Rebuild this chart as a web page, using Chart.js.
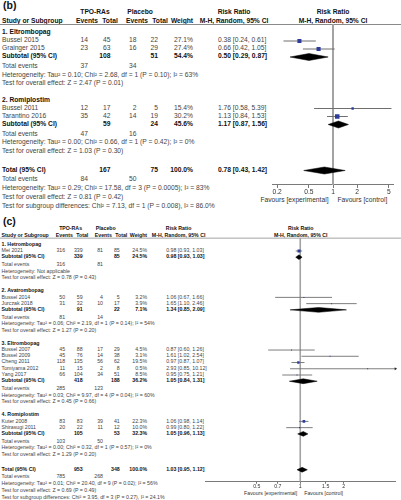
<!DOCTYPE html>
<html><head><meta charset="utf-8">
<script src="https://cdn.jsdelivr.net/npm/chart.js@4.4.1/dist/chart.umd.min.js"></script>
<style>
html,body{margin:0;padding:0;background:#fff;}
body{width:401px;height:500px;position:relative;overflow:hidden;font-family:"Liberation Sans",Arial,Helvetica,sans-serif;}
.t{position:absolute;white-space:nowrap;line-height:1;color:#444;}
.b{font-weight:bold;color:#111;}
.panel{position:absolute;left:0;transform-origin:0 0;}
.hl{position:absolute;left:0;height:0;border-top:1px solid #8a8a8a;}
canvas{position:absolute;}
.ttl{position:absolute;left:3px;font-weight:bold;font-size:10.5px;line-height:1;color:#111;}
</style></head><body>
<div class="ttl" style="top:0px">(b)</div>
<div class="ttl" style="top:216px">(c)</div>
<script>
const FONT = '"Liberation Sans", Arial, Helvetica, sans-serif';

// ---------------- Panel (b) data ----------------
const bGroupNames = ["1. Eltrombopag", "2. Romiplostim"];
const bGroupSizes = [2, 2];
const bStudies = ["Bussel 2015", "Grainger 2015", "Bussel 2011", "Tarantino 2016"];
const bExpEvents = [14, 23, 12, 35];
const bExpTotal = [45, 63, 17, 42];
const bCtlEvents = [18, 16, 2, 14];
const bCtlTotal = [22, 29, 5, 19];
const bWeights = [27.1, 27.4, 15.4, 30.2];
const bRatio = [0.38, 0.66, 1.76, 1.13];
const bLower = [0.24, 0.42, 0.58, 0.84];
const bUpper = [0.61, 1.05, 5.39, 1.53];
const bSubExpTotal = [108, 59];
const bSubCtlTotal = [51, 24];
const bSubWeights = [54.4, 45.6];
const bSubRatio = [0.50, 1.17];
const bSubLower = [0.29, 0.87];
const bSubUpper = [0.87, 1.56];
const bSubExpEvents = [37, 47];
const bSubCtlEvents = [34, 16];
const bSubHeterogeneity = [
  "Heterogeneity: Tau² = 0.10; Chi² = 2.68, df = 1 (P = 0.10); I² = 63%",
  "Heterogeneity: Tau² = 0.00; Chi² = 0.66, df = 1 (P = 0.42); I² = 0%"];
const bSubOverall = [
  "Test for overall effect: Z = 2.47 (P = 0.01)",
  "Test for overall effect: Z = 1.03 (P = 0.30)"];
const bTotalCounts = [167, 75];
const bTotalEvents = [84, 50];
const bTotalWeight = [100.0];
const bTotalEffect = [0.78, 0.43, 1.42];
const bTotalNotes = [
  "Heterogeneity: Tau² = 0.29; Chi² = 17.58, df = 3 (P = 0.0005); I² = 83%",
  "Test for overall effect: Z = 0.81 (P = 0.42)",
  "Test for subgroup differences: Chi² = 7.13, df = 1 (P = 0.008), I² = 86.0%"];
const bTicks = [0.2, 0.5, 1, 2, 5];
const bAxisRange = [0.176, 5.68];

// ---------------- Panel (c) data ----------------
const cGroupNames = ["1. Hetrombopag", "2. Avatrombopag", "3. Eltrombopag", "4. Romiplostim"];
const cGroupSizes = [1, 2, 5, 2];
const cStudies = ["Mei 2021", "Bussel 2014", "Jurczak 2018", "Bussel 2007", "Bussel 2009", "Cheng 2011", "Tomiyama 2012", "Yang 2017", "Kuter 2008", "Shirasugi 2011"];
const cExpEvents = [316, 50, 31, 45, 45, 118, 11, 66, 83, 20];
const cExpTotal = [339, 59, 32, 88, 76, 135, 15, 104, 83, 22];
const cCtlEvents = [81, 4, 10, 17, 14, 56, 2, 34, 39, 11];
const cCtlTotal = [85, 5, 17, 29, 38, 62, 8, 51, 41, 12];
const cWeights = [24.5, 3.2, 3.9, 4.5, 3.1, 19.5, 0.5, 8.5, 22.3, 10.0];
const cRatio = [0.98, 1.06, 1.65, 0.87, 1.61, 0.97, 2.93, 0.95, 1.06, 0.99];
const cLower = [0.93, 0.67, 1.10, 0.60, 1.02, 0.87, 0.85, 0.75, 0.98, 0.80];
const cUpper = [1.03, 1.66, 2.46, 1.26, 2.54, 1.07, 10.12, 1.21, 1.14, 1.22];
const cSubExpTotal = [339, 91, 418, 105];
const cSubCtlTotal = [85, 22, 188, 53];
const cSubWeights = [24.5, 7.1, 36.2, 32.3];
const cSubRatio = [0.98, 1.34, 1.05, 1.05];
const cSubLower = [0.93, 0.85, 0.84, 0.96];
const cSubUpper = [1.03, 2.09, 1.31, 1.13];
const cSubExpEvents = [316, 81, 285, 103];
const cSubCtlEvents = [81, 14, 123, 50];
const cSubHeterogeneity = [
  "Heterogeneity: Not applicable",
  "Heterogeneity: Tau² = 0.06; Chi² = 2.19, df = 1 (P = 0.14); I² = 54%",
  "Heterogeneity: Tau² = 0.03; Chi² = 9.97, df = 4 (P = 0.04); I² = 60%",
  "Heterogeneity: Tau² = 0.00; Chi² = 0.32, df = 1 (P = 0.57); I² = 0%"];
const cSubOverall = [
  "Test for overall effect: Z = 0.78 (P = 0.43)",
  "Test for overall effect: Z = 1.27 (P = 0.20)",
  "Test for overall effect: Z = 0.45 (P = 0.66)",
  "Test for overall effect: Z = 1.29 (P = 0.20)"];
const cTotalCounts = [953, 348];
const cTotalEvents = [785, 268];
const cTotalWeight = [100.0];
const cTotalEffect = [1.03, 0.95, 1.12];
const cTotalNotes = [
  "Heterogeneity: Tau² = 0.01; Chi² = 20.40, df = 9 (P = 0.02); I² = 56%",
  "Test for overall effect: Z = 0.69 (P = 0.49)",
  "Test for subgroup differences: Chi² = 3.95, df = 3 (P = 0.27), I² = 24.1%"];
const cTicks = [0.5, 0.7, 1, 1.5, 2];
const cAxisRange = [0.2188, 4.57];

// ---------------- helpers ----------------
const f2 = v => v.toFixed(2);
const ciText = (e, l, u) => f2(e) + " [" + f2(l) + ", " + f2(u) + "]";
const pct = w => w.toFixed(1) + "%";

function buildPanel(P) {
  const root = document.createElement('div');
  root.className = 'panel';
  root.style.top = P.top + 'px';
  root.style.width = (401 / P.s) + 'px';
  root.style.height = (500 / P.s) + 'px';
  root.style.transform = 'scale(' + P.s + ')';
  document.body.appendChild(root);
  const F = 6.7;
  function txt(str, x, y, align, bold, color) {
    const d = document.createElement('div');
    d.className = 't' + (bold ? ' b' : '');
    d.textContent = str;
    d.style.fontSize = F + 'px';
    d.style.top = (y - 0.55 * F) + 'px';
    d.style.left = x + 'px';
    if (color) d.style.color = color;
    if (align === 'r') d.style.transform = 'translateX(-100%)';
    else if (align === 'c') d.style.transform = 'translateX(-50%)';
    root.appendChild(d);
  }
  const C = P.cols;
  // header
  txt("TPO-RAs", C.hTpo, 12.7, 'c', true);
  txt("Placebo", C.hPla, 12.7, 'c', true);
  txt("Risk Ratio", C.hRR, 12.7, 'c', true);
  txt("Risk Ratio", P.plotC, 12.7, 'c', true);
  txt("Study or Subgroup", 2, 21.3, 'l', true);
  txt("Events", C.hEv1, 21.3, 'c', true);
  txt("Total", C.hTot1, 21.3, 'c', true);
  txt("Events", C.hEv2, 21.3, 'c', true);
  txt("Total", C.hTot2, 21.3, 'c', true);
  txt("Weight", C.hW, 21.3, 'c', true);
  txt("M-H, Random, 95% CI", C.hRR, 21.3, 'c', true);
  txt("M-H, Random, 95% CI", P.plotC, 21.3, 'c', true);
  const hl = document.createElement('div');
  hl.className = 'hl';
  hl.style.top = '24px';
  hl.style.width = (401 / P.s) + 'px';
  root.appendChild(hl);

  const page = yb => P.top + P.s * yb;
  const studyY = [], subY = [];
  let y = 33, si = 0;
  P.groupNames.forEach((gname, g) => {
    txt(gname, 2, y, 'l', true);
    for (let k = 0; k < P.groupSizes[g]; k++, si++) {
      y += 8;
      txt(P.studies[si], 2, y, 'l');
      txt(String(P.expEvents[si]), C.ev1, y, 'r');
      txt(String(P.expTotal[si]), C.tot1, y, 'r');
      txt(String(P.ctlEvents[si]), C.ev2, y, 'r');
      txt(String(P.ctlTotal[si]), C.tot2, y, 'r');
      txt(pct(P.weights[si]), C.w, y, 'r');
      txt(ciText(P.ratio[si], P.lower[si], P.upper[si]), C.ci, y, 'l');
      studyY.push(page(y));
    }
    y += 8;
    txt("Subtotal (95% CI)", 2, y, 'l', true);
    txt(String(P.subExpTotal[g]), C.tot1, y, 'r', true);
    txt(String(P.subCtlTotal[g]), C.tot2, y, 'r', true);
    txt(pct(P.subWeights[g]), C.w, y, 'r', true);
    txt(ciText(P.subRatio[g], P.subLower[g], P.subUpper[g]), C.ci, y, 'l', true);
    subY.push(page(y));
    y += 10;
    txt("Total events", 2, y, 'l');
    txt(String(P.subExpEvents[g]), C.ev1, y, 'r');
    txt(String(P.subCtlEvents[g]), C.ev2, y, 'r');
    y += 8.5;
    txt(P.subHet[g], 2, y, 'l');
    y += 8.5;
    txt(P.subOverall[g], 2, y, 'l');
    if (g < P.groupNames.length - 1) y += 16.5;
  });
  y += 19;
  txt("Total (95% CI)", 2, y, 'l', true);
  txt(String(P.totalCounts[0]), C.tot1, y, 'r', true);
  txt(String(P.totalCounts[1]), C.tot2, y, 'r', true);
  txt(pct(P.totalWeight[0]), C.w, y, 'r', true);
  txt(ciText(P.totalEffect[0], P.totalEffect[1], P.totalEffect[2]), C.ci, y, 'l', true);
  const totalY = page(y);
  y += 9;
  txt("Total events", 2, y, 'l');
  txt(String(P.totalEvents[0]), C.ev1, y, 'r');
  txt(String(P.totalEvents[1]), C.ev2, y, 'r');
  P.totalNotes.forEach(n => { y += 9; txt(n, 2, y, 'l'); });
  // favours labels
  txt("Favours [experimental]", P.plotC - 4.5, P.favY, 'r', false, '#333');
  txt("Favours [control]", P.plotC + 4.5, P.favY, 'l', false, '#333');
  return { studyY, subY, totalY };
}

function buildChart(P, R) {
  const cv = document.createElement('canvas');
  cv.width = P.cw; cv.height = P.ch;
  cv.style.left = P.cx + 'px'; cv.style.top = P.cy + 'px';
  cv.style.width = P.cw + 'px'; cv.style.height = P.ch + 'px';
  document.body.appendChild(cv);
  const ds = [];
  // squares (study estimates)
  ds.push({
    data: P.ratio.map((r, i) => ({ x: r, y: R.studyY[i] })),
    pointStyle: 'rect',
    pointRadius: P.weights.map(w => Math.max(1, w * P.sqK) / Math.SQRT2),
    backgroundColor: '#2c3c9c', borderWidth: 0, order: 1
  });
  // arrows for CIs beyond axis
  const arr = [];
  P.upper.forEach((u, i) => { if (u > P.range[1]) arr.push({ x: P.range[1], y: R.studyY[i] }); });
  if (arr.length) ds.push({
    data: arr, pointStyle: 'triangle', rotation: 90, pointRadius: 1.6,
    backgroundColor: '#222', borderWidth: 0, order: 0, clip: false
  });
  // diamonds (subtotals + total)
  const dia = (e, l, u, y) => ({
    data: [{ x: l, y: y }, { x: e, y: y - P.dh }, { x: u, y: y }, { x: e, y: y + P.dh }, { x: l, y: y }],
    showLine: true, fill: 'shape', backgroundColor: '#000', borderColor: '#000',
    borderWidth: 0.5, pointRadius: 0, tension: 0, order: 1
  });
  P.subRatio.forEach((e, g) => ds.push(dia(e, P.subLower[g], P.subUpper[g], R.subY[g])));
  ds.push(dia(P.totalEffect[0], P.totalEffect[1], P.totalEffect[2], R.totalY));
  // confidence-interval whiskers
  P.ratio.forEach((r, i) => ds.push({
    data: [{ x: P.lower[i], y: R.studyY[i] }, { x: P.upper[i], y: R.studyY[i] }],
    showLine: true, borderColor: '#6f6f6f', borderWidth: P.ciW, pointRadius: 0, order: 5
  }));
  // line of no effect
  const ref = {
    data: [{ x: 1, y: P.yTop }, { x: 1, y: P.yBot }],
    showLine: true, borderColor: '#a3a3a3', borderWidth: P.refW, pointRadius: 0, order: 10
  };
  ds.push(ref);

  const chart = new Chart(cv, {
    type: 'scatter',
    data: { datasets: ds },
    options: {
      responsive: false, animation: false, events: [],
      layout: { padding: { left: P.padL, right: P.padR, top: P.padT, bottom: 0 } },
      plugins: { legend: { display: false }, tooltip: { enabled: false } },
      scales: {
        x: {
          type: 'logarithmic', min: P.range[0], max: P.range[1], bounds: 'data',
          afterBuildTicks: sc => { sc.ticks = P.ticks.map(v => ({ value: v })); },
          ticks: {
            autoSkip: false, maxRotation: 0, minRotation: 0, padding: 0, color: '#333',
            font: { family: FONT, size: P.tickFont }, callback: v => String(v)
          },
          grid: { drawOnChartArea: false, drawTicks: true, tickLength: P.tickLen, color: '#777', lineWidth: 1 },
          border: { display: true, color: '#7a7a7a', width: 1 }
        },
        y: { type: 'linear', display: false, reverse: true, min: P.yTop, max: P.yBot }
      }
    }
  });
  const ca = chart.chartArea;
  const yTop = P.cy + ca.top, yBot = P.cy + ca.bottom;
  chart.options.scales.y.min = yTop;
  chart.options.scales.y.max = yBot;
  ref.data = [{ x: 1, y: yTop }, { x: 1, y: yBot }];
  chart.update('none');
  return chart;
}

// ---------------- panel (b) ----------------
const bLayout = {
  s: 1, top: 0, plotC: 333, favY: 201,
  cols: { ev1: 88, tot1: 110.5, ev2: 136.5, tot2: 158, w: 193, ci: 218,
          hTpo: 95, hPla: 140, hRR: 234, hEv1: 87, hTot1: 110, hEv2: 137, hTot2: 160, hW: 182 },
  groupNames: bGroupNames, groupSizes: bGroupSizes, studies: bStudies,
  expEvents: bExpEvents, expTotal: bExpTotal, ctlEvents: bCtlEvents, ctlTotal: bCtlTotal,
  weights: bWeights, ratio: bRatio, lower: bLower, upper: bUpper,
  subExpTotal: bSubExpTotal, subCtlTotal: bSubCtlTotal, subWeights: bSubWeights,
  subRatio: bSubRatio, subLower: bSubLower, subUpper: bSubUpper,
  subExpEvents: bSubExpEvents, subCtlEvents: bSubCtlEvents,
  subHet: bSubHeterogeneity, subOverall: bSubOverall,
  totalCounts: bTotalCounts, totalEvents: bTotalEvents, totalWeight: bTotalWeight,
  totalEffect: bTotalEffect, totalNotes: bTotalNotes
};
const bRows = buildPanel(bLayout);
buildChart(Object.assign({}, bLayout, {
  cx: 200, cy: 20, cw: 201, ch: 176, padL: 72.7, padR: 7.7, padT: 4,
  range: bAxisRange, ticks: bTicks, tickFont: 6.7, tickLen: 3,
  yTop: 24, yBot: 185, dh: 3.5, sqK: 0.15, ciW: 1, refW: 2
}), bRows);

// ---------------- panel (c) ----------------
const cLayout = {
  s: 0.78, top: 219, plotC: 385.5, favY: 352.5,
  cols: { ev1: 83.5, tot1: 106, ev2: 132, tot2: 153.5, w: 188.5, ci: 213,
          hTpo: 90.5, hPla: 135.5, hRR: 229, hEv1: 82.5, hTot1: 105.5, hEv2: 132.5, hTot2: 155.5, hW: 177.5 },
  groupNames: cGroupNames, groupSizes: cGroupSizes, studies: cStudies,
  expEvents: cExpEvents, expTotal: cExpTotal, ctlEvents: cCtlEvents, ctlTotal: cCtlTotal,
  weights: cWeights, ratio: cRatio, lower: cLower, upper: cUpper,
  subExpTotal: cSubExpTotal, subCtlTotal: cSubCtlTotal, subWeights: cSubWeights,
  subRatio: cSubRatio, subLower: cSubLower, subUpper: cSubUpper,
  subExpEvents: cSubExpEvents, subCtlEvents: cSubCtlEvents,
  subHet: cSubHeterogeneity, subOverall: cSubOverall,
  totalCounts: cTotalCounts, totalEvents: cTotalEvents, totalWeight: cTotalWeight,
  totalEffect: cTotalEffect, totalNotes: cTotalNotes
};
const cRows = buildPanel(cLayout);
buildChart(Object.assign({}, cLayout, {
  cx: 200, cy: 234, cw: 201, ch: 256, padL: 5, padR: 5.5, padT: 4,
  range: cAxisRange, ticks: cTicks, tickFont: 5.2, tickLen: 2,
  yTop: 238, yBot: 481.7, dh: 2.4, sqK: 0.12, ciW: 0.9, refW: 1.6
}), cRows);
</script>
</body></html>
